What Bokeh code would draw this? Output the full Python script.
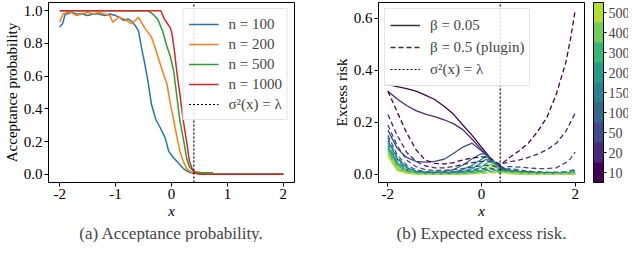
from bokeh.plotting import figure
from bokeh.layouts import row
from bokeh.models import (ColorBar, LinearColorMapper, FixedTicker, Title,
                          Range1d, Legend, LegendItem)
from bokeh.embed import file_html
from bokeh.resources import INLINE

FONT = "Liberation Serif"

# ---------------- data: acceptance probability ----------------
x_n100 = [-2.0, -1.95, -1.9, -1.85, -1.8, -1.7, -1.6, -1.5, -1.4, -1.3, -1.2, -1.1, -1.0, -0.94,
          -0.85, -0.78, -0.71, -0.65, -0.59, -0.54, -0.48, -0.42, -0.36, -0.28, -0.19, -0.11,
          -0.05, 0.04, 0.12, 0.21, 0.30, 0.38, 0.45, 0.5, 0.6, 0.62, 1.0, 2.0]
acc_n100 = [0.90, 0.92, 0.98, 0.98, 0.99, 0.98, 0.98, 0.97, 0.98, 0.98, 0.97, 0.98, 0.97, 0.96,
            0.94, 0.95, 0.935, 0.91, 0.876, 0.78, 0.68, 0.567, 0.43, 0.335, 0.277, 0.22,
            0.14, 0.10, 0.07, 0.035, 0.015, 0.006, 0.01, 0.0, 0.01, 0.0, 0.0, 0.0]

x_n200 = [-2.0, -1.94, -1.86, -1.8, -1.7, -1.6, -1.5, -1.4, -1.3, -1.2, -1.1, -1.05, -0.94,
          -0.85, -0.71, -0.59, -0.54, -0.48, -0.36, -0.28, -0.19, -0.08, -0.02, 0.04, 0.09,
          0.15, 0.21, 0.27, 0.35, 0.42, 0.5, 0.55, 1.0, 2.0]
acc_n200 = [0.93, 0.98, 0.99, 0.99, 0.97, 0.98, 0.99, 0.98, 0.99, 0.98, 0.97, 0.93, 0.96,
            0.95, 0.92, 0.96, 0.93, 0.895, 0.84, 0.76, 0.66, 0.55, 0.43, 0.33, 0.24,
            0.14, 0.08, 0.035, 0.015, 0.01, 0.006, 0.0, 0.0, 0.0]

x_n500 = [-2.0, -1.0, -0.42, -0.34, -0.25, -0.16, -0.08, -0.02, 0.04, 0.09, 0.15, 0.21, 0.27,
          0.32, 0.41, 0.55, 0.73, 0.75, 2.0]
acc_n500 = [1.0, 1.0, 1.0, 0.98, 0.95, 0.876, 0.78, 0.72, 0.63, 0.49, 0.33, 0.22, 0.10,
            0.045, 0.015, 0.01, 0.01, 0.0, 0.0]

x_n1000 = [-2.0, -1.0, -0.19, -0.13, -0.08, -0.02, 0.01, 0.05, 0.09, 0.15, 0.21, 0.27, 0.32,
           0.38, 0.44, 0.5, 2.0]
acc_n1000 = [1.0, 1.0, 1.0, 0.95, 0.925, 0.895, 0.857, 0.76, 0.64, 0.49, 0.33, 0.20, 0.08,
             0.025, 0.006, 0.0, 0.0]

acc_labels = ["n = 100", "n = 200", "n = 500", "n = 1000"]
acc_colors = ["#1f77b4", "#ff7f0e", "#2ca02c", "#d62728"]

lam = 0.4

# ---------------- data: excess risk ----------------
ns = [10, 20, 50, 100, 150, 200, 300, 400, 500]
viridis9 = ["#440154", "#482979", "#3e4a89", "#31688e", "#26828e",
            "#1f9e89", "#35b779", "#6ece58", "#b5de2b"]

x_risk = [-2.0, -1.8, -1.6, -1.4, -1.2, -1.0, -0.8, -0.6, -0.4, -0.2, 0.0, 0.1, 0.2, 0.3,
          0.4, 0.5, 0.6, 0.8, 1.0, 1.2, 1.4, 1.6, 1.8, 1.9, 2.0]

# beta = 0.05 (solid)
solid_n10 = [0.345, 0.338, 0.330, 0.320, 0.305, 0.288, 0.262, 0.232, 0.190, 0.150, 0.105, 0.082,
             0.060, 0.042, 0.032, 0.020, 0.015, 0.010, 0.008, 0.006, 0.005, 0.005, 0.004, 0.004, 0.004]
solid_n20 = [0.320, 0.290, 0.265, 0.245, 0.232, 0.222, 0.210, 0.195, 0.172, 0.135, 0.095, 0.075,
             0.055, 0.040, 0.030, 0.020, 0.015, 0.010, 0.007, 0.006, 0.005, 0.004, 0.004, 0.004, 0.004]
solid_n50 = [0.170, 0.100, 0.065, 0.050, 0.047, 0.050, 0.058, 0.080, 0.105, 0.120, 0.090, 0.075,
             0.055, 0.040, 0.028, 0.018, 0.014, 0.010, 0.008, 0.006, 0.005, 0.004, 0.004, 0.004, 0.004]
solid_n100 = [0.130, 0.060, 0.025, 0.012, 0.008, 0.008, 0.010, 0.018, 0.035, 0.060, 0.080, 0.075,
              0.060, 0.040, 0.025, 0.015, 0.010, 0.006, 0.004, 0.003, 0.003, 0.003, 0.003, 0.003, 0.003]
solid_n150 = [0.110, 0.045, 0.015, 0.006, 0.004, 0.004, 0.005, 0.008, 0.018, 0.035, 0.058, 0.068,
              0.058, 0.040, 0.022, 0.012, 0.008, 0.005, 0.003, 0.002, 0.002, 0.002, 0.002, 0.002, 0.002]
solid_n200 = [0.100, 0.035, 0.010, 0.004, 0.003, 0.003, 0.003, 0.004, 0.010, 0.022, 0.045, 0.058,
              0.055, 0.040, 0.020, 0.010, 0.006, 0.004, 0.002, 0.002, 0.002, 0.002, 0.002, 0.002, 0.002]
solid_n300 = [0.090, 0.025, 0.007, 0.003, 0.002, 0.002, 0.002, 0.002, 0.005, 0.012, 0.028, 0.042,
              0.048, 0.035, 0.018, 0.010, 0.005, 0.003, 0.002, 0.001, 0.001, 0.001, 0.001, 0.001, 0.001]
solid_n400 = [0.080, 0.020, 0.005, 0.002, 0.001, 0.001, 0.001, 0.001, 0.002, 0.006, 0.015, 0.028,
              0.038, 0.030, 0.015, 0.008, 0.004, 0.002, 0.001, 0.001, 0.001, 0.001, 0.001, 0.001, 0.001]
solid_n500 = [0.070, 0.015, 0.004, 0.001, 0.001, 0.001, 0.001, 0.001, 0.001, 0.003, 0.008, 0.018,
              0.030, 0.026, 0.013, 0.006, 0.003, 0.002, 0.001, 0.001, 0.001, 0.001, 0.001, 0.001, 0.001]

# beta = 0.5 plugin (dashed)
dashed_n10 = [0.320, 0.240, 0.160, 0.095, 0.055, 0.042, 0.040, 0.045, 0.055, 0.063, 0.067, 0.066,
              0.060, 0.048, 0.038, 0.050, 0.065, 0.090, 0.120, 0.165, 0.220, 0.310, 0.430, 0.520, 0.630]
dashed_n20 = [0.230, 0.150, 0.085, 0.050, 0.032, 0.025, 0.025, 0.030, 0.038, 0.045, 0.050, 0.052,
              0.050, 0.045, 0.040, 0.043, 0.048, 0.055, 0.065, 0.078, 0.095, 0.120, 0.165, 0.200, 0.235]
dashed_n50 = [0.190, 0.110, 0.055, 0.030, 0.018, 0.015, 0.015, 0.018, 0.022, 0.028, 0.033, 0.035,
              0.034, 0.030, 0.025, 0.028, 0.030, 0.028, 0.025, 0.022, 0.022, 0.025, 0.045, 0.060, 0.085]
dashed_n100 = [0.150, 0.075, 0.035, 0.018, 0.010, 0.008, 0.008, 0.010, 0.013, 0.018, 0.022, 0.024,
               0.023, 0.020, 0.018, 0.020, 0.022, 0.018, 0.012, 0.010, 0.008, 0.008, 0.010, 0.014, 0.020]
dashed_n150 = [0.140, 0.065, 0.028, 0.012, 0.006, 0.005, 0.005, 0.006, 0.009, 0.013, 0.017, 0.019,
               0.019, 0.017, 0.015, 0.017, 0.018, 0.014, 0.009, 0.007, 0.006, 0.006, 0.008, 0.011, 0.015]
dashed_n200 = [0.120, 0.050, 0.020, 0.008, 0.004, 0.003, 0.003, 0.004, 0.006, 0.009, 0.013, 0.015,
               0.015, 0.014, 0.012, 0.014, 0.014, 0.010, 0.006, 0.005, 0.004, 0.004, 0.006, 0.008, 0.010]
dashed_n300 = [0.100, 0.040, 0.014, 0.005, 0.002, 0.002, 0.002, 0.002, 0.003, 0.005, 0.008, 0.010,
               0.011, 0.010, 0.009, 0.010, 0.010, 0.007, 0.004, 0.003, 0.003, 0.003, 0.004, 0.005, 0.006]
dashed_n400 = [0.090, 0.032, 0.010, 0.003, 0.001, 0.001, 0.001, 0.001, 0.002, 0.003, 0.005, 0.007,
               0.008, 0.008, 0.007, 0.008, 0.007, 0.005, 0.003, 0.002, 0.002, 0.002, 0.003, 0.003, 0.004]
dashed_n500 = [0.080, 0.026, 0.007, 0.002, 0.001, 0.001, 0.001, 0.001, 0.001, 0.002, 0.003, 0.005,
               0.006, 0.006, 0.005, 0.006, 0.005, 0.004, 0.002, 0.001, 0.001, 0.001, 0.002, 0.002, 0.003]

solid_series = [solid_n10, solid_n20, solid_n50, solid_n100, solid_n150,
                solid_n200, solid_n300, solid_n400, solid_n500]
dashed_series = [dashed_n10, dashed_n20, dashed_n50, dashed_n100, dashed_n150,
                 dashed_n200, dashed_n300, dashed_n400, dashed_n500]

DOT = "2 2"
X_OVERRIDES = {-2: "-2", -1: "-1", 0: "0", 1: "1", 2: "2"}


def style(p):
    p.xgrid.visible = False
    p.ygrid.visible = False
    p.outline_line_color = "black"
    p.outline_line_width = 1
    p.background_fill_color = "white"
    p.border_fill_color = "white"
    for ax in p.axis:
        ax.axis_line_color = "black"
        ax.major_tick_out = 4
        ax.major_tick_in = 0
        ax.minor_tick_out = 0
        ax.minor_tick_in = 0
        ax.major_tick_line_color = "black"
        ax.major_label_text_font = FONT
        ax.major_label_text_font_size = "15px"
        ax.major_label_text_font_style = "normal"
        ax.major_label_text_color = "black"
        ax.major_label_standoff = 2
        ax.axis_label_text_font = FONT
        ax.axis_label_text_font_size = "15px"
        ax.axis_label_text_font_style = "normal"
        ax.axis_label_text_color = "black"
        ax.axis_label_standoff = 1


def vline(p, lo, hi):
    return p.line(x=[lam, lam], y=[lo, hi], line_color="black", line_dash=DOT, line_width=1.2)


FH = 180

# ---------------- left: acceptance probability ----------------
y1_lo, y1_hi = -0.05, 1.05
p1 = figure(frame_width=246, frame_height=FH, x_range=Range1d(-2.2, 2.2),
            y_range=Range1d(y1_lo, y1_hi), output_backend="svg", toolbar_location=None,
            min_border_left=40, min_border_right=12, min_border_top=2, min_border_bottom=0)
style(p1)
p1.xaxis.ticker = FixedTicker(ticks=[-2, -1, 0, 1, 2])
p1.xaxis.major_label_overrides = X_OVERRIDES
p1.yaxis.ticker = FixedTicker(ticks=[0.0, 0.2, 0.4, 0.6, 0.8, 1.0])
p1.yaxis.major_label_overrides = {0.0: "0.0", 0.2: "0.2", 0.4: "0.4", 0.6: "0.6", 0.8: "0.8", 1.0: "1.0"}
p1.xaxis.axis_label = "x"
p1.xaxis.axis_label_text_font_style = "italic"
p1.yaxis.axis_label = "Acceptance probability"

items1 = []
for xs, ys, lab, col in zip([x_n100, x_n200, x_n500, x_n1000],
                            [acc_n100, acc_n200, acc_n500, acc_n1000], acc_labels, acc_colors):
    r = p1.line(xs, ys, line_color=col, line_width=1.5)
    items1.append(LegendItem(label=lab, renderers=[r]))
r_v1 = vline(p1, y1_lo, y1_hi)
items1.append(LegendItem(label="σ²(x) = λ", renderers=[r_v1]))
leg1 = Legend(items=items1, location="top_right", label_text_font=FONT,
              label_text_font_size="15px", glyph_width=30, glyph_height=20, label_height=20,
              spacing=0, padding=5, margin=6, label_standoff=10,
              background_fill_alpha=0.85, border_line_color="#cccccc", border_line_width=1)
p1.add_layout(leg1, "center")
p1.add_layout(Title(text="(a) Acceptance probability.", align="center", text_font=FONT,
                    text_font_size="17px", text_font_style="normal", standoff=0), "below")

# ---------------- right: excess risk ----------------
y2_lo, y2_hi = -0.0315, 0.6615
p2 = figure(frame_width=206, frame_height=FH, x_range=Range1d(-2.2, 2.2),
            y_range=Range1d(y2_lo, y2_hi), output_backend="svg", toolbar_location=None,
            min_border_left=72, min_border_right=44, min_border_top=2, min_border_bottom=0)
style(p2)
p2.xaxis.ticker = FixedTicker(ticks=[-2, 0, 2])
p2.xaxis.major_label_overrides = X_OVERRIDES
p2.yaxis.ticker = FixedTicker(ticks=[0.0, 0.2, 0.4, 0.6])
p2.yaxis.major_label_overrides = {0.0: "0.0", 0.2: "0.2", 0.4: "0.4", 0.6: "0.6"}
p2.xaxis.axis_label = "x"
p2.xaxis.axis_label_text_font_style = "italic"
p2.yaxis.axis_label = "Excess risk"

for col, ys in zip(viridis9, solid_series):
    p2.line(x_risk, ys, line_color=col, line_width=1.3)
for col, ys in zip(viridis9, dashed_series):
    p2.line(x_risk, ys, line_color=col, line_width=1.3, line_dash="5 3")
r_v2 = vline(p2, y2_lo, y2_hi)
# single-point renderers: draw nothing in the plot, only provide legend glyphs
d_solid = p2.line(x=x_risk[:1], y=solid_n10[:1], line_color="#333333", line_width=1.5)
d_dash = p2.line(x=x_risk[:1], y=dashed_n10[:1], line_color="#333333", line_width=1.5, line_dash="5 3")
leg2 = Legend(items=[LegendItem(label="β = 0.05", renderers=[d_solid]),
                     LegendItem(label="β = 0.5 (plugin)", renderers=[d_dash]),
                     LegendItem(label="σ²(x) = λ", renderers=[r_v2])],
              location="top_left", label_text_font=FONT, label_text_font_size="15px",
              glyph_width=30, glyph_height=22, label_height=22, spacing=0, padding=5,
              margin=6, label_standoff=10, background_fill_alpha=0.85,
              border_line_color="#cccccc", border_line_width=1)
p2.add_layout(leg2, "center")

mapper = LinearColorMapper(palette=viridis9, low=0, high=len(ns))
cb = ColorBar(color_mapper=mapper, ticker=FixedTicker(ticks=[i + 0.5 for i in range(len(ns))]),
              major_label_overrides={i + 0.5: str(n) for i, n in enumerate(ns)},
              width=10, height=FH, location=(206 + 9, 0), padding=0, margin=0, label_standoff=2,
              major_label_text_font=FONT, major_label_text_font_size="14px",
              major_tick_out=3, major_tick_in=0, major_tick_line_color="black",
              minor_tick_out=0, minor_tick_in=0,
              bar_line_color="black", border_line_color=None, background_fill_alpha=0)
p2.add_layout(cb, "center")
p2.add_layout(Title(text="(b) Expected excess risk.", align="center", text_font=FONT,
                    text_font_size="17px", text_font_style="normal", standoff=0), "below")

layout = row(p1, p2)
open("out.html", "w").write(file_html(layout, INLINE))
